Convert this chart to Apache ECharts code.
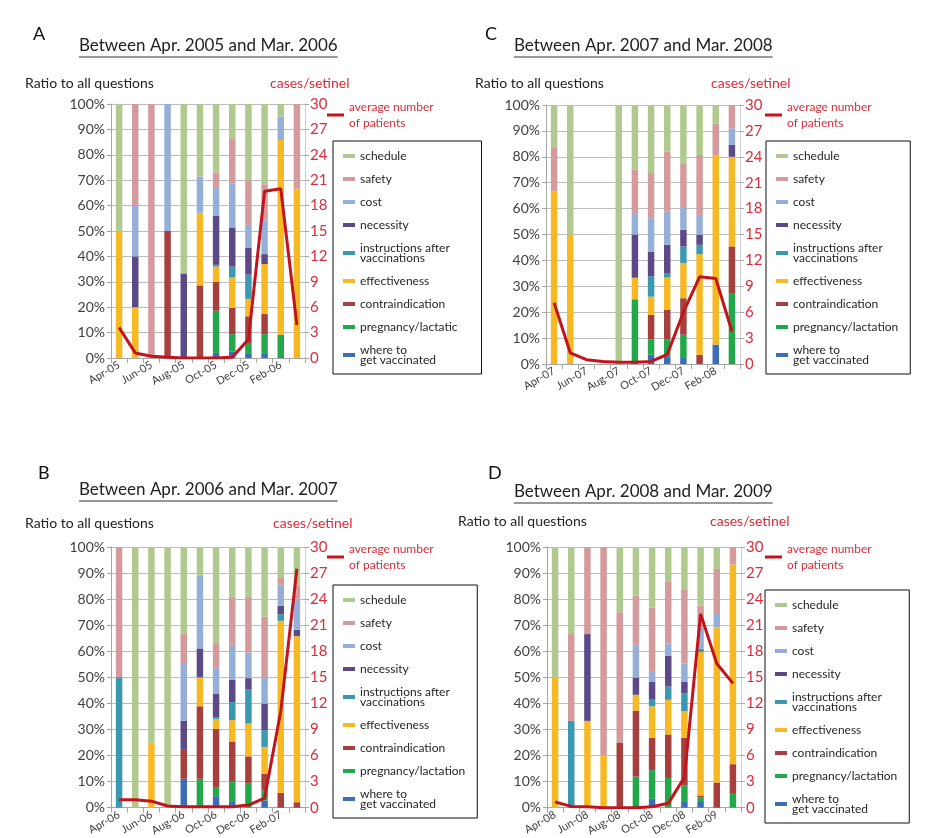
<!DOCTYPE html>
<html><head><meta charset="utf-8">
<script src="https://cdn.jsdelivr.net/npm/echarts@6/dist/echarts.min.js"></script>
<style>html,body{margin:0;padding:0;background:#fff}#c{width:926px;height:838px}</style>
</head><body><div id="c"></div>
<script>
// ---------- DATA ----------
const seriesNames = ['where to\nget vaccinated','pregnancy/lactation','contraindication','effectiveness','instructions after\nvaccinations','necessity','cost','safety','schedule'];
const legendOrder = ['schedule','safety','cost','necessity','instructions after\nvaccinations','effectiveness','contraindication','pregnancy/lactation','where to\nget vaccinated'];
const lineName = 'average number\nof patients';

const catsA = ['Apr-05','May-05','Jun-05','Jul-05','Aug-05','Sep-05','Oct-05','Nov-05','Dec-05','Jan-06','Feb-06','Mar-06'];
const catsB = ['Apr-06','May-06','Jun-06','Jul-06','Aug-06','Sep-06','Oct-06','Nov-06','Dec-06','Jan-07','Feb-07','Mar-07'];
const catsC = ['Apr-07','May-07','Jun-07','Jul-07','Aug-07','Sep-07','Oct-07','Nov-07','Dec-07','Jan-08','Feb-08','Mar-08'];
const catsD = ['Apr-08','May-08','Jun-08','Jul-08','Aug-08','Sep-08','Oct-08','Nov-08','Dec-08','Jan-09','Feb-09','Mar-09'];

// Panel A (% of all questions)
const whereA  = [0,0,0,0,0,0,2,2.6,1.6,1.6,0,0];
const pregA   = [0,0,0,0,0,0,16.6,6.8,4.3,7.8,9.2,0];
const contraA = [0,0,0,50,0,28.6,11.4,10.3,10.5,7.9,0,0];
const effA    = [50,20,0,0,0,28.6,6,12,6.9,19.7,76.6,66.7];
const instrA  = [0,0,0,0,0,0,0.7,4.3,9.5,0,0,0];
const necA    = [0,20,0,0,33.3,0,19.3,15.4,10.7,3.9,0,0];
const costA   = [0,20,0,50,0,14.3,11,17.4,8.9,13.5,9.2,0];
const safetyA = [0,40,100,0,0,0,6,17.7,17.6,14,0,33.3];
const schedA  = [50,0,0,0,66.7,28.6,27,13.5,30,31.6,5,0];
const patientsA = [3.6,0.6,0.2,0.1,0,0,0,0.1,2.2,19.7,20,3.9];

// Panel B
const whereB  = [0,0,0,0,11.1,0,4.4,2.5,0,2.8,0,0];
const pregB   = [0,0,0,0,0,11.1,3.5,7.5,9.2,3.9,0,0];
const contraB = [0,0,0,0,11.1,27.8,22.3,15.2,10.5,6.3,5.7,2.1];
const effB    = [0,0,25,0,0,11.1,3.8,8.4,12.6,10.3,66,63.7];
const instrB  = [50,0,0,0,0,0,0.6,6.9,13,6.5,2.5,0];
const necB    = [0,0,0,0,11.1,11.1,9,8.5,4.4,10.1,3.2,2.5];
const costB   = [0,0,0,0,22.2,27.8,9.9,13.5,9.8,10.1,8.1,11.8];
const safetyB = [50,0,0,0,11.1,0,9.8,18.4,21.4,23.3,2.9,5.1];
const schedB  = [0,100,75,100,33.4,11.1,36.7,19.1,19.1,26.7,11.6,14.8];
const patientsB = [0.9,0.9,0.75,0.2,0.1,0.1,0.1,0.1,0.3,1.1,11.1,27.5];

// Panel C
const whereC  = [0,0,0,0,0,0,3.6,3,2.3,0,7.5,0];
const pregC   = [0,0,0,0,0,25,5.8,6.4,9,0,0,27.4];
const contraC = [0,0,0,0,0,0,9.6,11.6,14.1,3.6,0,18];
const effC    = [66.7,50,0,0,0,8.3,7,12.4,13.6,38.8,73.2,34.6];
const instrC  = [0,0,0,0,0,0,7.8,1.7,6.4,3.6,0,0];
const necC    = [0,0,0,0,0,16.7,9.6,10.9,6.4,3.9,0,4.6];
const costC   = [0,0,0,0,0,8.3,12.9,12.9,8.4,7.7,0,6.4];
const safetyC = [16.7,0,0,0,0,16.7,17.4,23.1,17.3,23.1,12.2,9];
const schedC  = [16.7,50,0,0,100,25,26.3,18,22.5,19.3,7.1,0];
const patientsC = [7.1,1.3,0.5,0.3,0.2,0.2,0.3,1.1,6,10.1,9.9,3.8];

// Panel D
const whereD  = [0,0,0,0,0,0,3.4,0,2.2,2.2,0,0];
const pregD   = [0,0,0,0,0,11.9,11,11.4,6.3,1.8,0,5.3];
const contraD = [0,0,0,0,25,25.3,12.4,16.7,18.3,0.7,9.7,11.4];
const effD    = [50,0,33.3,20,0,6.1,12.1,13.3,10.2,55,59.5,76.6];
const instrD  = [0,33.3,0,0,0,0,2.5,5.1,6.9,1.3,0,0];
const necD    = [0,0,33.3,0,0,6.6,7,11.7,4.5,0,0,0];
const costD   = [0,0,0,0,0,12.6,4,4.7,6.9,8.2,5.1,0];
const safetyD = [0,33.3,33.3,80,50,18.8,24.4,23.7,28.2,8.3,17.3,6.7];
const schedD  = [50,33.3,0,0,25,18.7,23.2,13.4,16.5,22.5,8.4,0];
const patientsD = [0.65,0.15,0.1,0,0,0,0.1,0.5,3.5,22.3,16.6,14.3];

const leftTicks = [0,100,10];   // min,max,interval (%)
const rightTicks = [0,30,3];    // cases/sentinel

// ---------- STYLE / LAYOUT ----------
const colors = ['#3d6db5','#22a84a','#a5403f','#f6b923','#3a98b0','#5c4a88','#96afd9','#d59a9b','#b0c98e'];
const lineColor = '#c2141d';
const red = '#d92c3c';
const font = 'Lato';
const titleSize = 17;

const panels = [
  {label:'A', title:'Between Apr. 2005 and Mar. 2006', cats:catsA, stacks:[whereA,pregA,contraA,effA,instrA,necA,costA,safetyA,schedA], line:patientsA,
   grid:{left:111,top:104,width:194,height:254}, lab:[28,20], ttl:[79,37], ratio:[20,71], cases:[265,71], leg:[333,141], lleg:[327,99], legA:true},
  {label:'B', title:'Between Apr. 2006 and Mar. 2007', cats:catsB, stacks:[whereB,pregB,contraB,effB,instrB,necB,costB,safetyB,schedB], line:patientsB,
   grid:{left:111,top:547,width:194,height:265}, lab:[33,459], ttl:[79,481], ratio:[20,511], cases:[268,511], leg:[333,585], lleg:[327,541]},
  {label:'C', title:'Between Apr. 2007 and Mar. 2008', cats:catsC, stacks:[whereC,pregC,contraC,effC,instrC,necC,costC,safetyC,schedC], line:patientsC,
   grid:{left:546,top:105,width:194,height:259}, lab:[480,20], ttl:[514,37], ratio:[470,71], cases:[706,71], leg:[766,141], lleg:[765,99]},
  {label:'D', title:'Between Apr. 2008 and Mar. 2009', cats:catsD, stacks:[whereD,pregD,contraD,effD,instrD,necD,costD,safetyD,schedD], line:patientsD,
   grid:{left:547,top:547,width:194,height:264}, lab:[483,459], ttl:[514,483], ratio:[453,509], cases:[705,509], leg:[765,590], lleg:[765,541]}
];

const option = {animation:false, textStyle:{fontFamily:font}, grid:[], xAxis:[], yAxis:[], series:[], title:[], legend:[], graphic:[]};
const mctx = document.createElement('canvas').getContext('2d');
mctx.font = 'normal normal ' + titleSize + 'px ' + font;

panels.forEach((p,i)=>{
  option.grid.push(Object.assign({containLabel:false}, p.grid));
  option.xAxis.push({type:'category', gridIndex:i, data:p.cats,
    axisLine:{lineStyle:{color:'#a6a6a6'}}, axisTick:{show:true, interval:0, lineStyle:{color:'#a6a6a6'}},
    axisLabel:{interval:1, rotate:30, fontSize:11, color:'#404040', margin:6, fontFamily:font}});
  option.yAxis.push({type:'value', gridIndex:i, min:leftTicks[0], max:leftTicks[1], interval:leftTicks[2],
    axisLine:{show:true, lineStyle:{color:'#a6a6a6'}}, axisTick:{show:true, length:4, lineStyle:{color:'#a6a6a6'}},
    splitLine:{lineStyle:{color:'#bdbdbd'}},
    axisLabel:{formatter:'{value}%', fontSize:14, color:'#404040', margin:6, fontFamily:font}});
  option.yAxis.push({type:'value', gridIndex:i, position:'right', min:rightTicks[0], max:rightTicks[1], interval:rightTicks[2],
    axisLine:{show:true, lineStyle:{color:'#d0d0d0'}}, axisTick:{show:true, length:4, lineStyle:{color:'#a6a6a6'}},
    splitLine:{show:false},
    axisLabel:{fontSize:15, color:red, margin:5, fontFamily:font}});
  seriesNames.forEach((n,k)=>{
    option.series.push({type:'bar', name:n, xAxisIndex:i, yAxisIndex:2*i, stack:'s'+i, barWidth:'40%',
      data:p.stacks[k], itemStyle:{color:colors[k]}});
  });
  option.series.push({type:'line', name:lineName, xAxisIndex:i, yAxisIndex:2*i+1, data:p.line,
    symbol:'none', z:10, lineStyle:{width:3, color:lineColor}, itemStyle:{color:lineColor}});

  option.title.push({text:p.label, left:p.lab[0], top:p.lab[1], textStyle:{fontSize:18, fontWeight:'normal', color:'#111', fontFamily:font}});
  option.title.push({text:p.title, left:p.ttl[0], top:p.ttl[1], padding:0, textStyle:{fontSize:titleSize, fontWeight:'normal', color:'#222', fontFamily:font}});
  option.title.push({text:'Ratio to all questions', left:p.ratio[0], top:p.ratio[1], textStyle:{fontSize:14, fontWeight:'normal', color:'#222', fontFamily:font}});
  option.title.push({text:'cases/setinel', left:p.cases[0], top:p.cases[1], textStyle:{fontSize:14, fontWeight:'normal', color:red, fontFamily:font}});

  option.legend.push({data:legendOrder, orient:'vertical', left:p.leg[0], top:p.leg[1], icon:'rect', itemWidth:12, itemHeight:4, itemGap:11,
    borderColor:'#111', borderWidth:1, borderRadius:0, padding:[9, p.legA ? 24 : 12, 8, 10], selectedMode:false,
    formatter: p.legA ? (n=> n==='pregnancy/lactation' ? 'pregnancy/lactatic' : n) : '{name}',
    textStyle:{fontSize:12, lineHeight:10, color:'#262626', fontFamily:font}});
  option.legend.push({data:[lineName], left:p.lleg[0], top:p.lleg[1], icon:'rect', itemWidth:17, itemHeight:3, selectedMode:false, padding:0,
    textStyle:{fontSize:12, lineHeight:16, color:red, fontFamily:font}});

  // underline beneath the subtitle
  const w = mctx.measureText(p.title).width;
  option.graphic.push({type:'line', shape:{x1:p.ttl[0], y1:p.ttl[1]+20, x2:p.ttl[0]+w, y2:p.ttl[1]+20}, style:{stroke:'#333', lineWidth:1}});
});

const chart = echarts.init(document.getElementById('c'), null, {renderer:'canvas'});
chart.setOption(option);
</script>
</body></html>
